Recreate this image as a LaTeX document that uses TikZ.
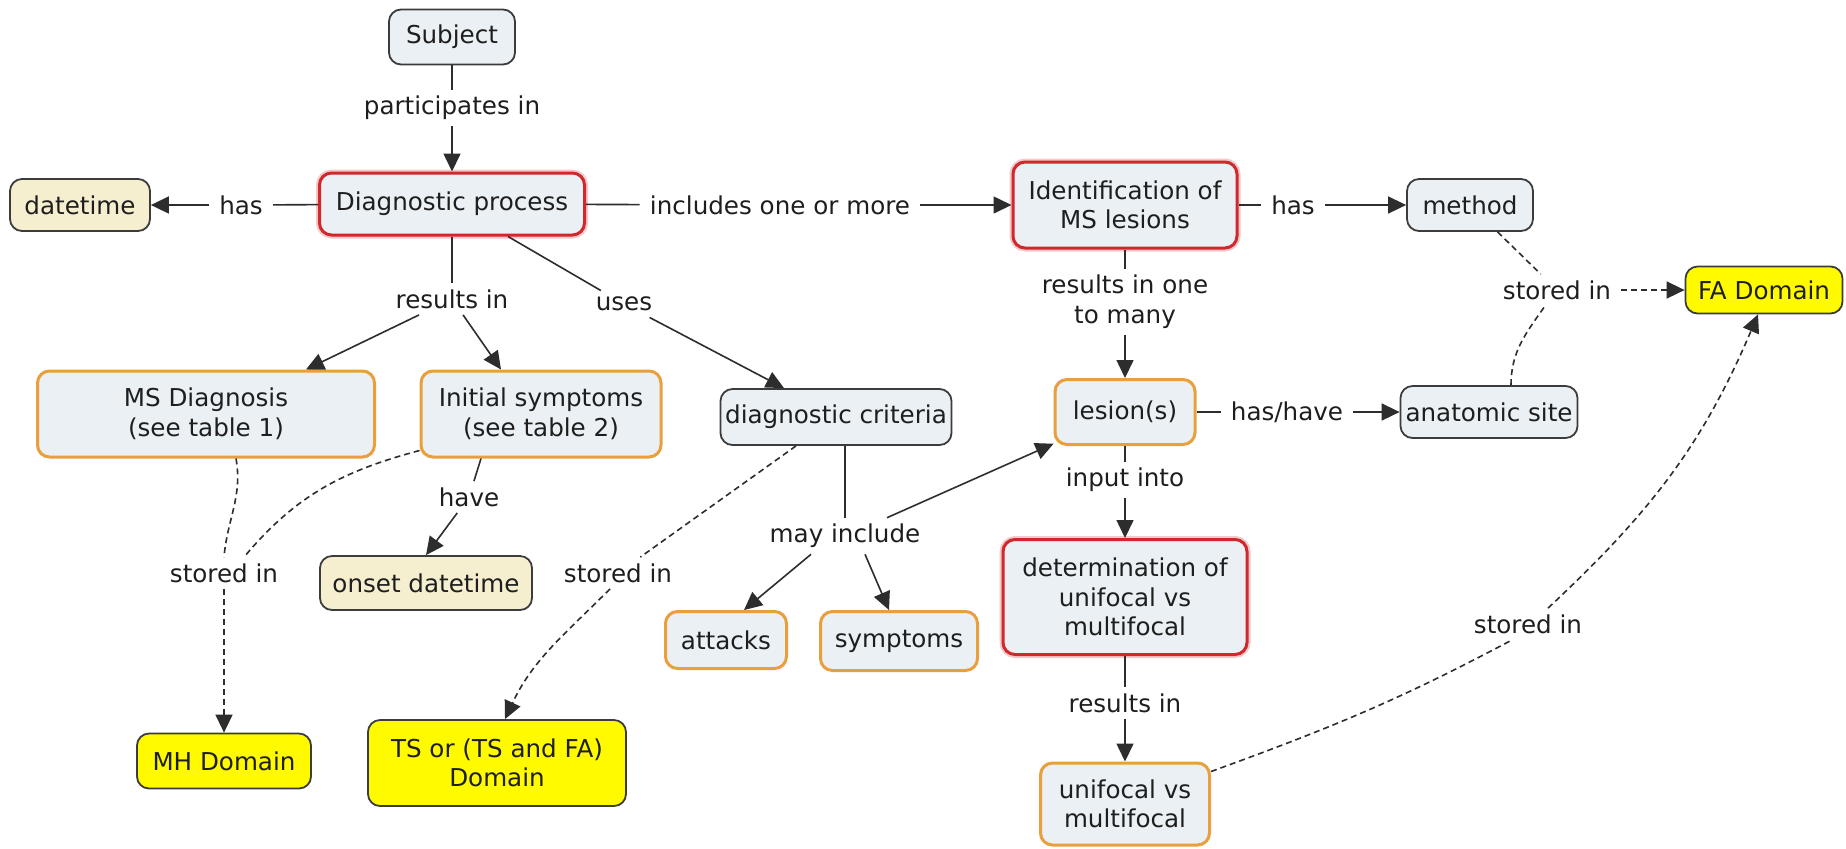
\documentclass[tikz,border=0pt]{standalone}
\usepackage{fontspec}
\setmainfont{DejaVu Sans}
\usetikzlibrary{arrows.meta}
\definecolor{cfill}{RGB}{234,240,244}
\definecolor{cbeige}{RGB}{245,239,208}
\definecolor{cyel}{RGB}{255,250,0}
\definecolor{bdark}{RGB}{60,60,60}
\definecolor{bred}{RGB}{208,40,44}
\definecolor{bora}{RGB}{233,160,60}
\definecolor{txt}{RGB}{30,30,30}
\definecolor{lcol}{RGB}{45,45,45}
\tikzset{
 box/.style={rounded corners=6pt, draw=bdark, line width=0.9pt, fill=cfill, align=center, text=txt, inner sep=2pt},
 plainb/.style={box},
 redb/.style={box, draw=bred, line width=1.5pt, preaction={draw=bred!25, line width=3.5pt}},
 orab/.style={box, draw=bora, line width=1.5pt},
 beigeb/.style={box, fill=cbeige},
 yelb/.style={box, fill=cyel},
 sz/.style 2 args={minimum width=#1*0.5pt, minimum height=#2*0.5pt},
 lbl/.style={inner xsep=5pt, inner ysep=3pt, text=txt, align=center},
 conn/.style={draw=lcol, line width=0.8pt},
 arr/.style={conn, -{Triangle[length=9pt,width=8.5pt]}},
 dsh/.style={dash pattern=on 3pt off 2pt},
}
\begin{document}
\begin{tikzpicture}[x=0.5pt,y=0.5pt,font=\fontsize{12.3}{14.8}\selectfont]
\useasboundingbox (0,0) rectangle (1846,-848);
\fill[white] (0,0) rectangle (1846,-848);
% concept nodes
\node[plainb,sz={126}{55}] (subj) at (452,-37) {Subject};
\node[redb,sz={265}{62}] (diag) at (452,-204) {Diagnostic process};
\node[beigeb,sz={140}{52}] (dt) at (80,-205) {datetime};
\node[redb,sz={224}{86}] (ident) at (1125,-205) {Identification of\\MS lesions};
\node[plainb,sz={126}{52}] (meth) at (1470,-205) {method};
\node[yelb,sz={157}{47}] (fa) at (1764,-290) {FA Domain};
\node[orab,sz={140}{65}] (les) at (1125,-412) {lesion(s)};
\node[plainb,sz={177}{52}] (anat) at (1489,-412) {anatomic site};
\node[redb,sz={244}{115}] (det) at (1125,-597) {determination of\\unifocal vs\\multifocal};
\node[orab,sz={169}{82}] (unif) at (1125,-804) {unifocal vs\\multifocal};
\node[plainb,sz={231}{56}] (dcrit) at (836,-417) {diagnostic criteria};
\node[orab,sz={337}{86}] (msd) at (206,-414) {MS Diagnosis\\(see table 1)};
\node[orab,sz={240}{86}] (init) at (541,-414) {Initial symptoms\\(see table 2)};
\node[beigeb,sz={212}{54}] (onset) at (426,-583) {onset datetime};
\node[yelb,sz={174}{55}] (mh) at (224,-761) {MH Domain};
\node[yelb,sz={258}{86}] (ts) at (497,-763) {TS or (TS and FA)\\Domain};
\node[orab,sz={121}{57}] (att) at (726,-640) {attacks};
\node[orab,sz={157}{59}] (sym) at (899,-641) {symptoms};
% linking phrases
\node[lbl] (l1) at (452,-108) {participates in};
\node[lbl] (lhas1) at (241,-205) {has};
\node[lbl] (linc) at (780,-205) {includes one or more};
\node[lbl] (lhas2) at (1293,-205) {has};
\node[lbl] (lst1) at (1557,-290) {stored in};
\node[lbl] (lres1) at (1125,-302) {results in one\\to many};
\node[lbl] (lhh) at (1287,-412) {has/have};
\node[lbl] (linp) at (1125,-480) {input into};
\node[lbl] (lres2) at (1125,-703) {results in};
\node[lbl] (lst3) at (1528,-624) {stored in};
\node[lbl] (lres0) at (452,-299) {results in};
\node[lbl] (luses) at (624,-304) {uses};
\node[lbl] (lhave) at (469,-497) {have};
\node[lbl] (lst0) at (224,-573) {stored in};
\node[lbl] (lst2) at (618,-573) {stored in};
\node[lbl] (lmay) at (845,-536) {may include};
% connectors
\draw[conn] (subj) -- (l1);
\draw[arr] (l1) -- (diag);
\draw[conn] (diag) -- (lhas1);
\draw[arr] (lhas1) -- (dt);
\draw[conn] (diag) -- (linc);
\draw[arr] (linc) -- (ident);
\draw[conn] (ident) -- (lhas2);
\draw[arr] (lhas2) -- (meth);
\draw[conn,dsh] (meth) -- (lst1);
\draw[conn,dsh] ([xshift=11pt]anat.north) to[out=90,in=-125] ([xshift=-6pt]lst1.south);
\draw[arr,dsh] (lst1) -- (fa);
\draw[conn] (ident) -- (lres1);
\draw[arr] (lres1) -- (les);
\draw[conn] (les) -- (lhh);
\draw[arr] (lhh) -- (anat);
\draw[conn] (les) -- (linp);
\draw[arr] (linp) -- (det);
\draw[conn] (det) -- (lres2);
\draw[arr] (lres2) -- (unif);
\draw[conn,dsh] ([yshift=-5pt]unif.north east) to[out=20,in=-152] ([xshift=-8pt]lst3.south);
\draw[arr,dsh] ([xshift=10pt]lst3.north) to[out=43,in=-113] ([xshift=-3pt]fa.south);
\draw[conn] (diag) -- (lres0);
\draw[arr] (lres0) -- ([xshift=50pt]msd.north);
\draw[arr] (lres0) -- ([xshift=-20pt]init.north);
\draw[conn] ([xshift=28pt]diag.south) -- (luses);
\draw[arr] (luses) -- ([xshift=-26pt]dcrit.north);
\draw[conn] ([xshift=-30pt]init.south) -- (lhave);
\draw[arr] (lhave) -- (onset.north);
\draw[conn,dsh] ([xshift=15pt]msd.south) to[out=-80,in=85] (lst0.north);
\draw[conn,dsh] ([yshift=4pt]init.south west) to[out=195,in=50] ([xshift=10pt]lst0.north);
\draw[arr,dsh] (lst0) -- (mh);
\draw[conn,dsh] ([xshift=-20pt]dcrit.south) -- (lst2);
\draw[arr,dsh] ([xshift=-4pt]lst2.south) to[out=-135,in=65] ([xshift=4pt]ts.north);
\draw[conn] (dcrit.south -| lmay) -- (lmay);
\draw[arr] ([xshift=-17pt]lmay.south) -- ([xshift=9pt]att.north);
\draw[arr] ([xshift=10pt]lmay.south) -- ([xshift=-5pt]sym.north);
\draw[arr] ([xshift=21pt]lmay.north) -- (les);
\end{tikzpicture}
\end{document}
